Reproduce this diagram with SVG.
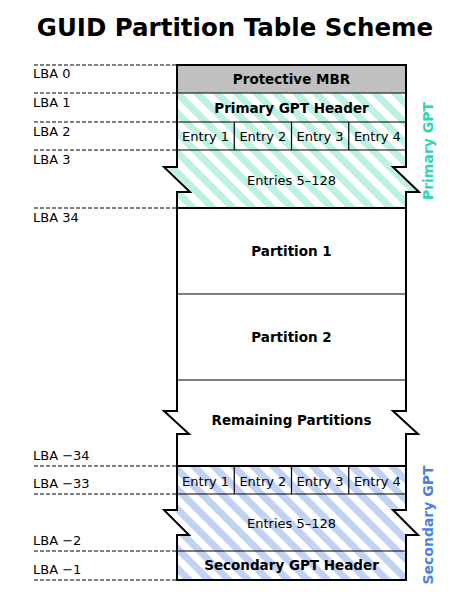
<svg xmlns="http://www.w3.org/2000/svg" width="458" height="600" viewBox="0 0 458 600">
<style>
  .t{font-family:"DejaVu Sans",sans-serif;fill:#000}
  .title{font-size:24.5px;font-weight:bold;text-anchor:middle}
  .lba{font-size:13px}
  .b{font-size:13.5px;font-weight:bold;text-anchor:middle}
  .n{font-size:13px;text-anchor:middle}
  .dash{stroke:#000;stroke-width:1;stroke-dasharray:4,2;fill:none}
  .thin{stroke:#000;stroke-width:1.2;fill:none}
  .thick{stroke:#000;stroke-width:2;fill:none;stroke-linejoin:miter}
  .side{font-family:"DejaVu Sans",sans-serif;font-size:14px;font-weight:bold;text-anchor:middle}
</style>
<defs>
  <pattern id="hatchP" patternUnits="userSpaceOnUse" width="14" height="14" patternTransform="rotate(-45)">
    <rect width="14" height="14" fill="#fff"/>
    <rect width="7" height="14" fill="#bdf1e3"/>
  </pattern>
  <pattern id="hatchS" patternUnits="userSpaceOnUse" width="14" height="14" patternTransform="rotate(-45)">
    <rect width="14" height="14" fill="#fff"/>
    <rect width="7" height="14" fill="#c2d2f2"/>
  </pattern>
</defs>
<rect width="458" height="600" fill="#fff"/>
<text class="t title" x="235" y="36">GUID Partition Table Scheme</text>

<g id="lba-lines">
  <line class="dash" x1="34" y1="65" x2="177" y2="65"/>
  <line class="dash" x1="34" y1="93" x2="177" y2="93"/>
  <line class="dash" x1="34" y1="122" x2="177" y2="122"/>
  <line class="dash" x1="34" y1="150" x2="177" y2="150"/>
  <line class="dash" x1="34" y1="208" x2="177" y2="208"/>
  <line class="dash" x1="34" y1="466" x2="177" y2="466"/>
  <line class="dash" x1="34" y1="494" x2="177" y2="494"/>
  <line class="dash" x1="34" y1="551" x2="177" y2="551"/>
  <line class="dash" x1="34" y1="580" x2="177" y2="580"/>
</g>
<g id="lba-labels">
  <text class="t lba" x="33" y="78">LBA 0</text>
  <text class="t lba" x="33" y="107">LBA 1</text>
  <text class="t lba" x="33" y="136">LBA 2</text>
  <text class="t lba" x="33" y="164">LBA 3</text>
  <text class="t lba" x="33" y="222">LBA 34</text>
  <text class="t lba" x="33" y="460">LBA −34</text>
  <text class="t lba" x="33" y="488">LBA −33</text>
  <text class="t lba" x="33" y="545">LBA −2</text>
  <text class="t lba" x="33" y="574">LBA −1</text>
</g>

<g id="mbr">
  <rect x="177" y="65" width="229" height="28" fill="#c0c0c0"/>
  <text class="t b" x="291.5" y="84">Protective MBR</text>
</g>

<g id="primary-gpt">
  <path d="M177,93 H406 V167 H393 L419,192 H406 V208 H177 V192 H190 L164,167 H177 Z" fill="url(#hatchP)"/>
  <line class="thin" x1="177" y1="93" x2="406" y2="93"/>
  <line class="thin" x1="177" y1="122" x2="406" y2="122"/>
  <line class="thin" x1="177" y1="150" x2="406" y2="150"/>
  <line class="thin" x1="234.25" y1="122" x2="234.25" y2="150"/>
  <line class="thin" x1="291.5" y1="122" x2="291.5" y2="150"/>
  <line class="thin" x1="348.75" y1="122" x2="348.75" y2="150"/>
  <text class="t b" x="291.5" y="113">Primary GPT Header</text>
  <text class="t n" x="205.6" y="141">Entry 1</text>
  <text class="t n" x="262.9" y="141">Entry 2</text>
  <text class="t n" x="320.1" y="141">Entry 3</text>
  <text class="t n" x="377.4" y="141">Entry 4</text>
  <text class="t n" x="291.5" y="185">Entries 5–128</text>
  <text class="side" x="0" y="0" fill="#2fd6b2" transform="translate(433,151) rotate(-90)">Primary GPT</text>
</g>

<g id="partition-1">
  <line class="thick" x1="177" y1="208" x2="406" y2="208"/>
  <text class="t b" x="291.5" y="256">Partition 1</text>
</g>
<g id="partition-2">
  <line class="thin" x1="177" y1="294" x2="406" y2="294"/>
  <text class="t b" x="291.5" y="342">Partition 2</text>
</g>
<g id="remaining">
  <line class="thin" x1="177" y1="380" x2="406" y2="380"/>
  <text class="t b" x="291.5" y="425">Remaining Partitions</text>
</g>

<g id="secondary-gpt">
  <path d="M177,466 H406 V510 H393 L418,535 H406 V580 H177 V535 H189 L164,510 H177 Z" fill="url(#hatchS)"/>
  <line class="thick" x1="177" y1="466" x2="406" y2="466"/>
  <line class="thin" x1="177" y1="494" x2="406" y2="494"/>
  <line class="thin" x1="177" y1="551" x2="406" y2="551"/>
  <line class="thin" x1="234.25" y1="466" x2="234.25" y2="494"/>
  <line class="thin" x1="291.5" y1="466" x2="291.5" y2="494"/>
  <line class="thin" x1="348.75" y1="466" x2="348.75" y2="494"/>
  <text class="t n" x="205.6" y="486">Entry 1</text>
  <text class="t n" x="262.9" y="486">Entry 2</text>
  <text class="t n" x="320.1" y="486">Entry 3</text>
  <text class="t n" x="377.4" y="486">Entry 4</text>
  <text class="t n" x="291.5" y="528">Entries 5–128</text>
  <text class="t b" x="291.5" y="570">Secondary GPT Header</text>
  <text class="side" x="0" y="0" fill="#4b7fe8" transform="translate(433,525) rotate(-90)">Secondary GPT</text>
</g>

<g id="outline">
  <path class="thick" d="M177,65 H406 V167 H393 L419,192 H406 V411 H393 L418,434 H406 V510 H393 L418,535 H406 V580 H177 V535 H189 L164,510 H177 V434 H189 L164,411 H177 V192 H190 L164,167 H177 Z"/>
</g>
</svg>
